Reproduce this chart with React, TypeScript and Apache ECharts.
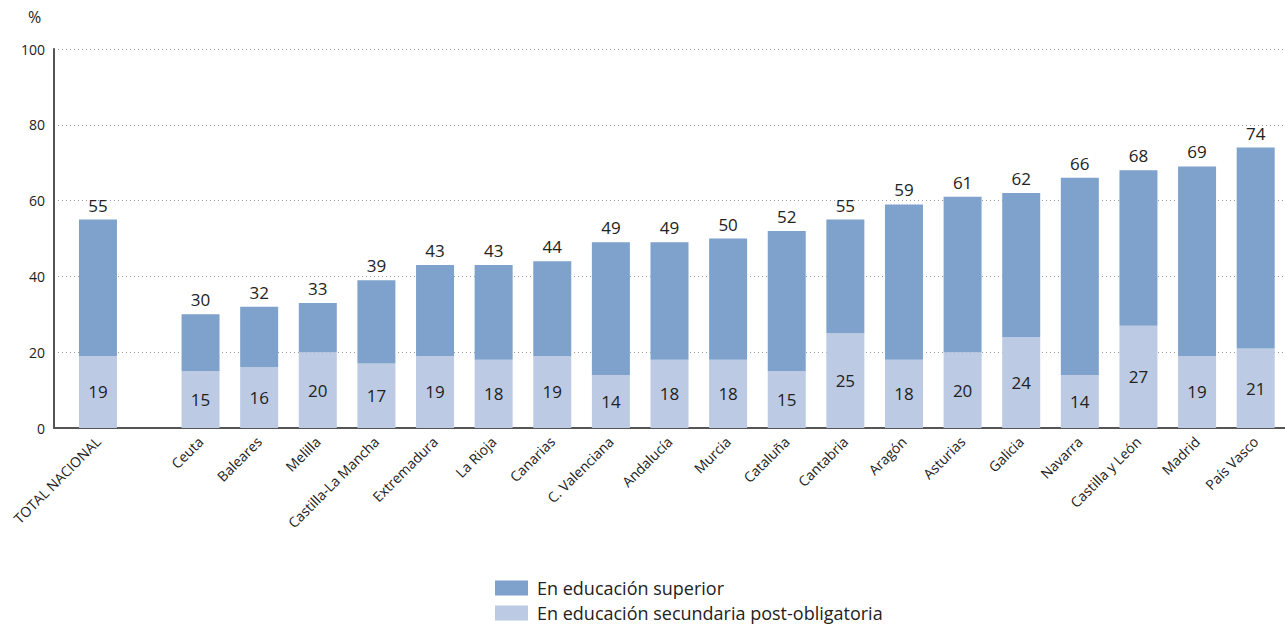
import React, { useEffect, useRef } from "react";
import * as echarts from "echarts";

const totalLabel = "TOTAL NACIONAL";
const totalSecundaria = 19;
const totalTotal = 55;

const regions = [
  "Ceuta", "Baleares", "Melilla", "Castilla-La Mancha", "Extremadura", "La Rioja",
  "Canarias", "C. Valenciana", "Andalucía", "Murcia", "Cataluña", "Cantabria",
  "Aragón", "Asturias", "Galicia", "Navarra", "Castilla y León", "Madrid", "País Vasco",
];
const secundaria = [15, 16, 20, 17, 19, 18, 19, 14, 18, 18, 15, 25, 18, 20, 24, 14, 27, 19, 21];
const totals = [30, 32, 33, 39, 43, 43, 44, 49, 49, 50, 52, 55, 59, 61, 62, 66, 68, 69, 74];

const yTicks = { min: 0, max: 100, interval: 20 };

const NAME_SUP = "En educación superior";
const NAME_SEC = "En educación secundaria post-obligatoria";
const COLOR_SUP = "#7fa2cc";
const COLOR_SEC = "#bccae4";
const FONT = "Open Sans";

export default function App() {
  const ref = useRef<HTMLDivElement>(null);

  useEffect(() => {
    if (!ref.current) return;
    const chart = echarts.init(ref.current, null, { renderer: "svg" });

    const regionCats = ["", "", ...regions];
    const blanks2 = ["-", "-"];
    const regSec = [...blanks2, ...secundaria];
    const regSup = [...blanks2, ...totals.map((t, i) => t - secundaria[i])];
    const regTot = [...blanks2, ...totals];

    const totalCats = [totalLabel, ...Array(13).fill("")];
    const totSec = [totalSecundaria, ...Array(13).fill("-")];
    const totSup = [totalTotal - totalSecundaria, ...Array(13).fill("-")];

    const xLabel = {
      rotate: 45,
      interval: 0,
      fontSize: 14,
      color: "#222",
      fontFamily: FONT,
      margin: 11,
    };

    const valueLabelStyle = { fontSize: 17, color: "#222", fontFamily: FONT };

    chart.setOption({
      animation: false,
      textStyle: { fontFamily: FONT },
      grid: { left: 54, right: -3, top: 49, bottom: 199, containLabel: false },
      legend: {
        orient: "vertical",
        left: 495,
        top: 577,
        padding: 0,
        height: 50,
        itemWidth: 33,
        itemHeight: 15,
        itemGap: 3,
        icon: "rect",
        data: [NAME_SUP, NAME_SEC],
        textStyle: {
          fontSize: 18,
          lineHeight: 22,
          color: "#222",
          fontFamily: FONT,
          padding: [0, 0, 0, 4],
        },
      },
      graphic: [
        {
          type: "text",
          left: 28,
          top: 9,
          style: { text: "%", fontSize: 16, fill: "#222", fontFamily: FONT },
        },
      ],
      xAxis: [
        {
          type: "category",
          data: regionCats,
          position: "bottom",
          axisLine: { show: true, lineStyle: { color: "#555", width: 2 } },
          axisTick: { show: false },
          axisLabel: xLabel,
        },
        {
          type: "category",
          data: totalCats,
          position: "bottom",
          axisLine: { show: false },
          axisTick: { show: false },
          axisLabel: xLabel,
        },
      ],
      yAxis: {
        type: "value",
        min: yTicks.min,
        max: yTicks.max,
        interval: yTicks.interval,
        axisLine: { show: true, lineStyle: { color: "#555", width: 2 } },
        axisTick: { show: false },
        axisLabel: { fontSize: 14, color: "#222", margin: 9, fontFamily: FONT },
        splitLine: { show: true, lineStyle: { color: "#999", type: [1, 3], width: 1 } },
      },
      series: [
        {
          name: NAME_SEC,
          type: "bar",
          stack: "r",
          xAxisIndex: 0,
          barWidth: 38,
          data: regSec,
          itemStyle: { color: COLOR_SEC },
          label: { show: true, position: "inside", ...valueLabelStyle },
        },
        {
          name: NAME_SUP,
          type: "bar",
          stack: "r",
          xAxisIndex: 0,
          barWidth: 38,
          data: regSup,
          itemStyle: { color: COLOR_SUP },
          label: {
            show: true,
            position: "top",
            distance: 6,
            ...valueLabelStyle,
            formatter: (p: any) => String(regTot[p.dataIndex]),
          },
        },
        {
          name: NAME_SEC,
          type: "bar",
          stack: "t",
          xAxisIndex: 1,
          barWidth: 38,
          data: totSec,
          itemStyle: { color: COLOR_SEC },
          label: { show: true, position: "inside", ...valueLabelStyle },
        },
        {
          name: NAME_SUP,
          type: "bar",
          stack: "t",
          xAxisIndex: 1,
          barWidth: 38,
          data: totSup,
          itemStyle: { color: COLOR_SUP },
          label: {
            show: true,
            position: "top",
            distance: 6,
            ...valueLabelStyle,
            formatter: () => String(totalTotal),
          },
        },
      ],
    });

    return () => chart.dispose();
  }, []);

  return (
    <div
      ref={ref}
      style={{ position: "fixed", left: 0, top: 0, width: 1285, height: 627, background: "#fff" }}
    />
  );
}
